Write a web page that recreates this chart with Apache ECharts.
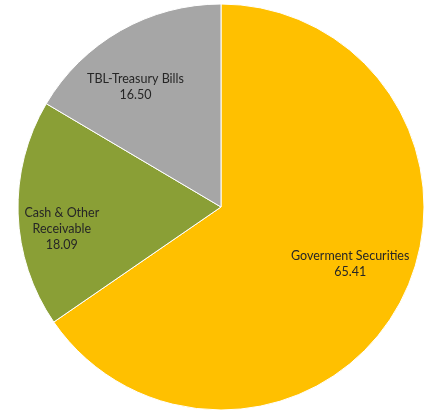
<!DOCTYPE html>
<html>
<head>
<meta charset="utf-8">
<script src="https://cdn.jsdelivr.net/npm/echarts@6/dist/echarts.min.js"></script>
<style>
  html, body { margin: 0; padding: 0; background: #ffffff; }
  #chart { width: 430px; height: 411px; }
</style>
</head>
<body>
<div id="chart"></div>
<script>
// Portfolio composition (%)
const categories = ['Goverment Securities', 'Cash & Other\nReceivable', 'TBL-Treasury Bills'];
const values = [65.41, 18.09, 16.50];
const colors = ['#FFC000', '#8A9F36', '#A6A6A6'];
// Label placement: fraction of the radius, and a small turn back from each slice's mid angle (deg)
const labelReach = [0.69, 0.79, 0.74];
const labelTurn = 5;

const chart = echarts.init(document.getElementById('chart'), null, { renderer: 'canvas' });

const CENTER = [221, 207];
const RADIUS = 203;

// mid angle of every slice, clockwise from 12 o'clock
const total = values.reduce((a, b) => a + b, 0);
const midAngles = [];
let acc = 0;
values.forEach(v => { midAngles.push((acc + v / 2) / total * 360); acc += v; });

chart.setOption({
  animation: false,
  series: [{
    type: 'pie',
    center: CENTER,
    radius: RADIUS,
    startAngle: 90,
    clockwise: true,
    silent: true,
    itemStyle: { borderColor: '#ffffff', borderWidth: 1 },
    label: {
      show: true,
      position: 'inside',
      formatter: p => p.name + '\n' + p.value.toFixed(2),
      fontFamily: 'Lato, "Open Sans", sans-serif',
      fontSize: 12.5,
      lineHeight: 16,
      color: '#262626',
      align: 'center'
    },
    labelLine: { show: false },
    // move each label from its default spot to the chosen radius/angle
    labelLayout: function (params) {
      const i = params.dataIndex;
      const r = params.labelRect;
      const lx = r.x + r.width / 2;
      const ly = r.y + r.height / 2;
      const a = (midAngles[i] - labelTurn) * Math.PI / 180;
      const d = labelReach[i] * RADIUS;
      const tx = CENTER[0] + d * Math.sin(a);
      const ty = CENTER[1] - d * Math.cos(a) + 3;
      return { dx: tx - lx, dy: ty - ly };
    },
    data: categories.map((name, i) => ({
      name: name,
      value: values[i],
      itemStyle: { color: colors[i] }
    }))
  }]
});
</script>
</body>
</html>
